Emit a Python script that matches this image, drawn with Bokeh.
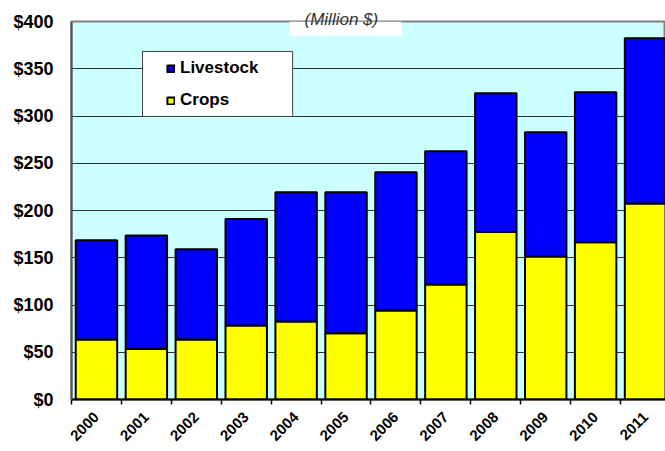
from math import pi
from bokeh.plotting import figure
from bokeh.models import (Range1d, FixedTicker, CustomJSTickFormatter, PrintfTickFormatter,
                          Legend, LegendItem, BoxAnnotation, ColumnDataSource)
from bokeh.embed import file_html
from bokeh.resources import INLINE

# ---- data (Million $) ----
years = ["2000", "2001", "2002", "2003", "2004", "2005",
         "2006", "2007", "2008", "2009", "2010", "2011"]
crops = [63.4, 53.5, 63.4, 78.2, 82.5, 70.1, 94.1, 121.6, 177.2, 151.2, 166.3, 207.5]
livestock = [105.0, 120.0, 95.5, 112.7, 136.9, 149.3, 146.5, 141.2, 146.9, 131.7, 158.9, 174.7]
y_ticks = [0, 50, 100, 150, 200, 250, 300, 350, 400]

FONT = "Liberation Sans"

xc = [i + 0.5 for i in range(len(years))]
src = ColumnDataSource(dict(x=xc, crops=crops, livestock=livestock, year=years))

p = figure(width=665, height=451, output_backend="svg", toolbar_location=None,
           x_range=Range1d(0, 11.9), y_range=Range1d(0, 400),
           min_border_left=71, min_border_top=21, min_border_bottom=52, min_border_right=0,
           background_fill_color="#CCFFFF", border_fill_color="white")
p.outline_line_color = "#808080"
p.outline_line_width = 2

# subtitle sitting on the top border
p.title.text = "(Million $)"
p.title.align = "left"
p.title.offset = 233
p.title.vertical_align = "bottom"
p.title.standoff = -14
p.title.text_font = FONT
p.title.text_font_style = "italic"
p.title.text_font_size = "17px"
p.title.text_color = "#333333"

rs = p.vbar_stack(["crops", "livestock"], x="x", width=0.83, source=src,
                  fill_color=["#FFFF00", "#0000FF"], line_color="black", line_width=2)

# x axis: ticks at category boundaries, labels at centres
p.xaxis.ticker = FixedTicker(ticks=xc, minor_ticks=list(range(len(years) + 1)))
p.xaxis.formatter = CustomJSTickFormatter(args=dict(labels=years),
                                          code="return labels[Math.floor(tick)];")
p.xaxis.major_tick_out = 0
p.xaxis.major_tick_in = 0
p.xaxis.minor_tick_out = 5
p.xaxis.minor_tick_in = 0
p.xaxis.minor_tick_line_color = "black"
p.xaxis.minor_tick_line_width = 1.5
p.xaxis.axis_line_color = "black"
p.xaxis.axis_line_width = 2
p.xaxis.major_label_orientation = pi / 4
p.xaxis.major_label_text_font = FONT
p.xaxis.major_label_text_font_style = "bold"
p.xaxis.major_label_text_font_size = "15px"
p.xaxis.major_label_text_color = "black"
p.xaxis.major_label_standoff = 10
p.xgrid.visible = False

# y axis
p.yaxis.ticker = FixedTicker(ticks=y_ticks)
p.yaxis.formatter = PrintfTickFormatter(format="$%d")
p.yaxis.major_tick_out = 0
p.yaxis.major_tick_in = 0
p.yaxis.minor_tick_line_color = None
p.yaxis.axis_line_color = "#555555"
p.yaxis.axis_line_width = 2
p.yaxis.major_label_standoff = 18
p.yaxis.major_label_text_font = FONT
p.yaxis.major_label_text_font_style = "bold"
p.yaxis.major_label_text_font_size = "18px"
p.yaxis.major_label_text_color = "black"
p.ygrid.ticker = FixedTicker(ticks=y_ticks)
p.ygrid.grid_line_color = "#333333"
p.ygrid.grid_line_width = 1.2

# legend box
box = BoxAnnotation(left=1.423, right=4.43, bottom=299.5, top=368.3,
                    fill_color="white", fill_alpha=1.0,
                    line_color="#404040", line_width=1, line_alpha=1.0)
p.add_layout(box)

legend = Legend(items=[LegendItem(label="Livestock", renderers=[rs[1]]),
                       LegendItem(label="Crops", renderers=[rs[0]])],
                location=(95, 289), padding=0, spacing=12,
                glyph_width=9, glyph_height=9, label_standoff=5, label_height=20,
                border_line_color=None, background_fill_alpha=0,
                label_text_font=FONT, label_text_font_style="bold",
                label_text_font_size="17px", label_text_color="black")
p.add_layout(legend)

# white patch behind the "(Million $)" subtitle, breaking the top border
sub_box = BoxAnnotation(left=4.37, right=6.61, bottom=385.0,
                        fill_color="white", fill_alpha=1.0, line_color=None)
p.add_layout(sub_box)

open("out.html", "w").write(file_html(p, INLINE))
